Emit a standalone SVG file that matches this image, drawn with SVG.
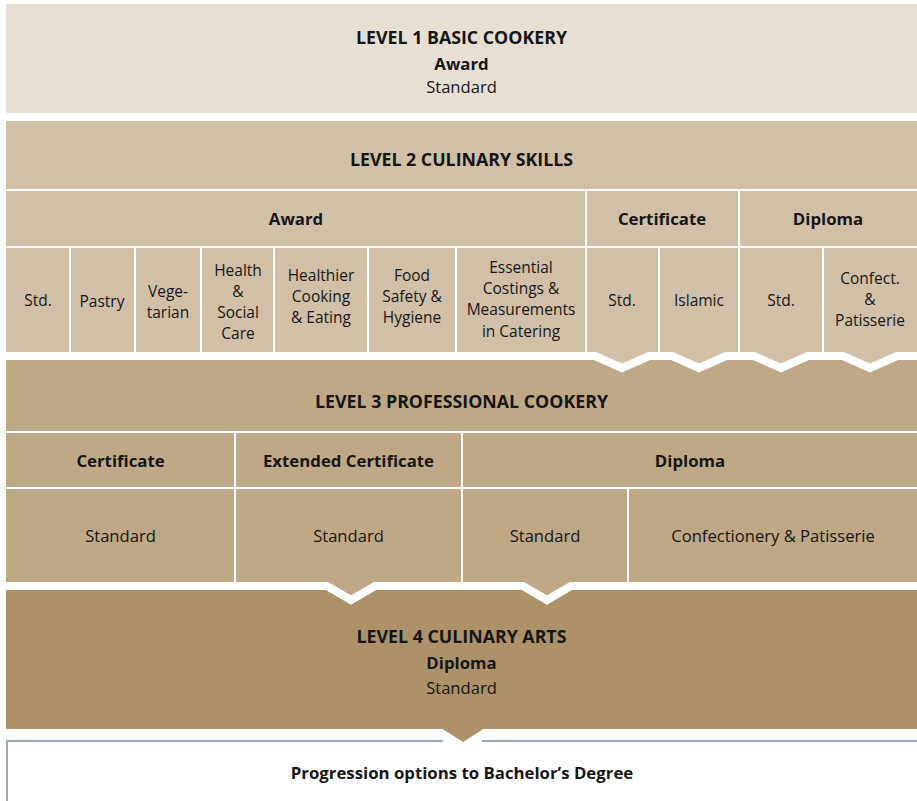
<svg xmlns="http://www.w3.org/2000/svg" width="917" height="801" viewBox="0 0 917 801">
<style>
text{font-family:"Open Sans","Noto Sans","Liberation Sans",sans-serif;fill:#161616;text-anchor:middle}
.t{font-size:17.8px;font-weight:bold}
.h{font-size:16.8px;font-weight:bold}
.s{font-size:16.6px}
.c{font-size:15.5px}
.p{font-size:16.8px;font-weight:bold}
.div{stroke:#ffffff;stroke-width:2}
.zig{fill:none;stroke:#ffffff;stroke-width:8;stroke-linejoin:miter;stroke-miterlimit:10}
</style>
<rect x="0" y="0" width="917" height="801" fill="#ffffff"/>

<g id="level1">
<rect x="6" y="4" width="911" height="109" fill="#e7dfd4"/>
<text class="t" x="461.5" y="44">LEVEL 1 BASIC COOKERY</text>
<text class="h" x="461.5" y="70">Award</text>
<text class="s" x="461.5" y="93">Standard</text>
</g>

<g id="level2">
<rect x="6" y="121" width="911" height="235" fill="#d1c0a7"/>
<line class="div" x1="6" y1="190" x2="917" y2="190"/>
<line class="div" x1="6" y1="247" x2="917" y2="247"/>
<line class="div" x1="586" y1="190" x2="586" y2="356"/>
<line class="div" x1="739" y1="190" x2="739" y2="356"/>
<line class="div" x1="70" y1="247" x2="70" y2="356"/>
<line class="div" x1="135" y1="247" x2="135" y2="356"/>
<line class="div" x1="201" y1="247" x2="201" y2="356"/>
<line class="div" x1="274" y1="247" x2="274" y2="356"/>
<line class="div" x1="368" y1="247" x2="368" y2="356"/>
<line class="div" x1="456" y1="247" x2="456" y2="356"/>
<line class="div" x1="659" y1="247" x2="659" y2="356"/>
<line class="div" x1="823" y1="247" x2="823" y2="356"/>
<text class="t" x="461.5" y="166">LEVEL 2 CULINARY SKILLS</text>
<text class="h" x="296" y="225">Award</text>
<text class="h" x="662" y="225">Certificate</text>
<text class="h" x="828" y="225">Diploma</text>
<text class="c" x="38" y="306">Std.</text>
<text class="c" x="102" y="307">Pastry</text>
<text class="c" x="168" y="297">Vege-</text>
<text class="c" x="168" y="318">tarian</text>
<text class="c" x="238" y="276">Health</text>
<text class="c" x="238" y="297">&amp;</text>
<text class="c" x="238" y="318">Social</text>
<text class="c" x="238" y="339">Care</text>
<text class="c" x="321" y="281">Healthier</text>
<text class="c" x="321" y="302">Cooking</text>
<text class="c" x="321" y="323">&amp; Eating</text>
<text class="c" x="412" y="281">Food</text>
<text class="c" x="412" y="302">Safety &amp;</text>
<text class="c" x="412" y="323">Hygiene</text>
<text class="c" x="521" y="273">Essential</text>
<text class="c" x="521" y="294">Costings &amp;</text>
<text class="c" x="521" y="315">Measurements</text>
<text class="c" x="521" y="337">in Catering</text>
<text class="c" x="622" y="306">Std.</text>
<text class="c" x="699" y="306">Islamic</text>
<text class="c" x="781" y="306">Std.</text>
<text class="c" x="870" y="284">Confect.</text>
<text class="c" x="870" y="305">&amp;</text>
<text class="c" x="870" y="326">Patisserie</text>
</g>

<g id="level3">
<rect x="6" y="356" width="911" height="230" fill="#bfa886"/>
<line class="div" x1="6" y1="432" x2="917" y2="432"/>
<line class="div" x1="6" y1="488" x2="917" y2="488"/>
<line class="div" x1="235" y1="432" x2="235" y2="586"/>
<line class="div" x1="462" y1="432" x2="462" y2="586"/>
<line class="div" x1="628" y1="488" x2="628" y2="586"/>
<text class="t" x="461.5" y="408">LEVEL 3 PROFESSIONAL COOKERY</text>
<text class="h" x="120.5" y="467">Certificate</text>
<text class="h" x="348.5" y="467">Extended Certificate</text>
<text class="h" x="690" y="467">Diploma</text>
<text class="s" x="120.5" y="542">Standard</text>
<text class="s" x="348.5" y="542">Standard</text>
<text class="s" x="545" y="542">Standard</text>
<text class="s" x="773" y="542">Confectionery &amp; Patisserie</text>
</g>

<g id="level4">
<rect x="6" y="586" width="911" height="143" fill="#ad9169"/>
<text class="t" x="461.5" y="643">LEVEL 4 CULINARY ARTS</text>
<text class="h" x="461.5" y="669">Diploma</text>
<text class="s" x="461.5" y="694">Standard</text>
</g>

<g id="progression">
<line x1="7" y1="741" x2="443" y2="741" stroke="#9ea8b2" stroke-width="2"/>
<line x1="482" y1="741" x2="917" y2="741" stroke="#9ea8b2" stroke-width="2"/>
<line x1="7" y1="740" x2="7" y2="801" stroke="#9ea8b2" stroke-width="2"/>
<text class="p" x="462" y="779">Progression options to Bachelor’s Degree</text>
</g>

<g id="connectors">
<g fill="#d1c0a7">
<polygon points="595,356 622,368 649,356"/>
<polygon points="672,356 699,368 726,356"/>
<polygon points="754,356 781,368 808,356"/>
<polygon points="843,356 870,368 897,356"/>
</g>
<polyline class="zig" points="0,356 595,356 622,368 649,356 672,356 699,368 726,356 754,356 781,368 808,356 843,356 870,368 897,356 917,356"/>
<g fill="#bfa886">
<polygon points="327,586 351,600 375,586"/>
<polygon points="523,586 547,600 571,586"/>
</g>
<polyline class="zig" points="0,586 327,586 351,600 375,586 523,586 547,600 571,586 917,586"/>
<polygon points="441,728 463,742 485,728" fill="#ad9169"/>
</g>
</svg>
